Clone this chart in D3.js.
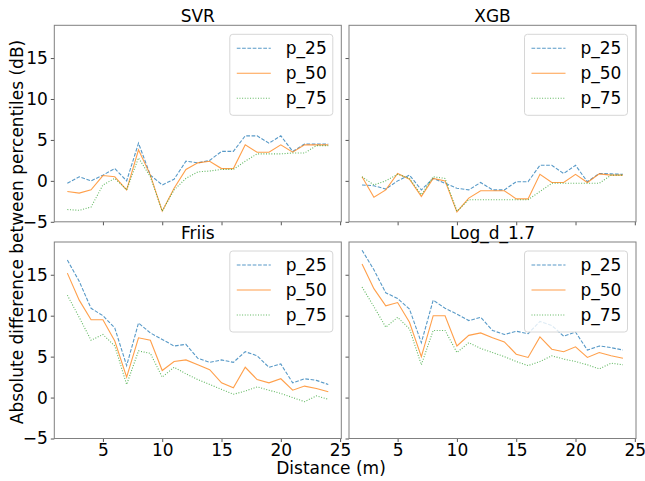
<!DOCTYPE html>
<html>
<head>
<meta charset="utf-8">
<script src="https://cdn.jsdelivr.net/npm/d3@7"></script>
<style>
  body { margin: 0; background: #fff; }
  svg text { font-family: "DejaVu Sans", sans-serif; fill: #000; }
</style>
</head>
<body>
<div id="chart"></div>
<script>
// distances (m)
const distances = d3.range(2, 25);
const seriesNames = ['p_25', 'p_50', 'p_75'];
const colors = ['#1f77b4', '#ff7f0e', '#2ca02c'];
const dashes = ['3.7,1.6', null, '1,1.65'];

const svr25 = [-0.3, 0.5, 0, 0.7, 1.5, 0, 4.6, 0.7, -0.5, 0.2, 2.4, 2.2, 2.5, 3.6, 3.6, 5.5, 5.5, 4.6, 5.5, 3.6, 4.5, 4.5, 4.5];
const svr50 = [-1.3, -1.5, -1.1, 0.65, 0.5, -1.1, 3.8, 0.7, -3.7, -0.9, 1.4, 2.2, 2.4, 1.5, 1.5, 4.4, 3.5, 3.5, 4.4, 3.5, 4.4, 4.4, 4.4];
const svr75 = [-3.5, -3.6, -3.2, -0.5, 0.3, -1.1, 2.8, 0.5, -3.7, -1.1, 0.3, 1.1, 1.2, 1.4, 1.4, 2.4, 3.3, 3.3, 3.3, 3.4, 3.4, 4.3, 4.3];

const xgb25 = [-0.5, -0.6, -1.0, 0, 0.7, -1.1, 0.3, -0.3, -0.9, -1.1, -0.2, -1.1, -1.1, -0.1, -0.1, 1.9, 1.9, 0.9, 1.9, -0.1, 0.9, 0.85, 0.8];
const xgb50 = [0.5, -2.0, -1.1, 0.9, 0.2, -1.9, 0.3, 0, -3.8, -2.1, -1.2, -1.2, -1.2, -2.2, -2.2, 0.8, -0.2, -0.2, 0.8, -0.2, 0.85, 0.7, 0.7];
const xgb75 = [0.5, -0.5, 0, 0.8, 0.3, -1.7, 0.5, 0.3, -3.7, -2.3, -2.3, -2.3, -2.3, -2.3, -2.3, -1.3, -0.3, -0.3, -0.3, -0.3, -0.3, 0.7, 0.7];

const friis25 = [16.8, 14.2, 10.9, 10.0, 8.5, 3.9, 9.1, 7.9, 7.1, 6.3, 6.5, 4.8, 4.3, 4.6, 4.3, 5.6, 5.1, 3.7, 4.1, 1.8, 2.3, 2.1, 1.6];
const friis50 = [15.2, 11.9, 9.5, 9.5, 6.9, 2.5, 7.3, 7.0, 3.3, 4.4, 4.6, 4.0, 3.4, 1.8, 1.2, 3.7, 2.2, 1.8, 2.3, 0.9, 1.4, 1.1, 0.7];
const friis75 = [12.5, 9.8, 7.0, 7.7, 6.3, 1.6, 5.7, 5.4, 2.5, 3.7, 2.9, 2.2, 1.6, 1.0, 0.4, 0.8, 1.3, 0.9, 0.5, 0, -0.5, 0.2, -0.2];

const log25 = [18.0, 15.6, 12.8, 12.1, 10.8, 6.7, 11.9, 10.9, 10.2, 9.4, 9.8, 8.2, 7.7, 8.1, 7.8, 9.3, 8.8, 7.5, 8.0, 5.8, 6.3, 6.1, 5.8];
const log50 = [16.3, 13.3, 11.2, 11.6, 9.2, 5.0, 10.0, 10.0, 6.3, 7.6, 7.9, 7.3, 6.8, 5.3, 4.9, 7.4, 5.9, 5.6, 6.2, 4.9, 5.5, 5.1, 4.8];
const log75 = [13.5, 11.1, 8.6, 9.8, 8.4, 4.0, 8.2, 8.2, 5.5, 6.7, 6.0, 5.5, 5.0, 4.4, 3.9, 4.4, 5.1, 4.7, 4.4, 4.0, 3.5, 4.2, 4.0];

const xTicks = [5, 10, 15, 20, 25];
const yTicks = [-5, 0, 5, 10, 15];

const panels = [
  { title: 'SVR', series: [svr25, svr50, svr75] },
  { title: 'XGB', series: [xgb25, xgb50, xgb75] },
  { title: 'Friis', series: [friis25, friis50, friis75] },
  { title: 'Log_d_1.7', series: [log25, log50, log75] }
];

const width = 645, height = 481;
const colX = [54.3, 349];
const rowY = [25.3, 242];
const pw = 287, ph = 196.5;
const fs = '17px';

const svg = d3.select('#chart').append('svg')
  .attr('width', width)
  .attr('height', height);

const x = d3.scaleLinear().domain([0.9, 25.1]).range([0, pw]);
const y = d3.scaleLinear().domain([-5, 19]).range([ph, 0]);

panels.forEach((p, i) => {
  const col = i % 2, row = Math.floor(i / 2);
  const g = svg.append('g')
    .attr('transform', `translate(${colX[col]},${rowY[row]})`);

  // axes
  const xAxis = d3.axisBottom(x).tickValues(xTicks).tickSize(3.5).tickPadding(1.5)
    .tickFormat(row === 1 ? d3.format('d') : '');
  const yAxis = d3.axisLeft(y).tickValues(yTicks).tickSize(3.5).tickPadding(3)
    .tickFormat(col === 0 ? d3.format('d') : '');

  const gx = g.append('g').attr('transform', `translate(0,${ph})`).call(xAxis);
  const gy = g.append('g').call(yAxis);
  [gx, gy].forEach(a => {
    a.select('.domain').remove();
    a.selectAll('line').attr('stroke', '#555');
    a.selectAll('text').style('font-size', fs).style('font-family', '"DejaVu Sans", sans-serif');
  });

  // lines
  const line = d3.line().x((d, j) => x(distances[j])).y(d => y(d));
  p.series.forEach((s, k) => {
    g.append('path')
      .datum(s)
      .attr('fill', 'none')
      .attr('stroke', colors[k])
      .attr('stroke-width', 1.1)
      .attr('stroke-opacity', 0.75)
      .attr('stroke-dasharray', dashes[k])
      .attr('d', line);
  });

  // frame
  g.append('rect')
    .attr('width', pw).attr('height', ph)
    .attr('fill', 'none')
    .attr('stroke', '#808080')
    .attr('stroke-width', 1);

  // title
  g.append('text')
    .attr('x', pw / 2).attr('y', -3.5)
    .attr('text-anchor', 'middle')
    .style('font-size', fs)
    .text(p.title);

  // legend
  const lw = 103, lh = 81;
  const lg = g.append('g').attr('transform', `translate(${pw - 8.5 - lw},9)`);
  lg.append('rect')
    .attr('width', lw).attr('height', lh)
    .attr('rx', 3)
    .attr('fill', '#fff').attr('fill-opacity', 0.8)
    .attr('stroke', '#d6d6d6');
  seriesNames.forEach((n, k) => {
    const ry = 14 + k * 25;
    lg.append('line')
      .attr('x1', 7).attr('x2', 41)
      .attr('y1', ry).attr('y2', ry)
      .attr('stroke', colors[k])
      .attr('stroke-width', 1.1)
      .attr('stroke-opacity', 0.75)
      .attr('stroke-dasharray', dashes[k]);
    lg.append('text')
      .attr('x', 56).attr('y', ry + 6)
      .style('font-size', fs)
      .text(n);
  });
});

// shared labels
svg.append('text')
  .attr('x', 331).attr('y', 474)
  .attr('text-anchor', 'middle')
  .style('font-size', fs)
  .text('Distance (m)');

svg.append('text')
  .attr('transform', 'translate(23,232) rotate(-90)')
  .attr('text-anchor', 'middle')
  .style('font-size', fs)
  .text('Absolute difference between percentiles (dB)');
</script>
</body>
</html>
